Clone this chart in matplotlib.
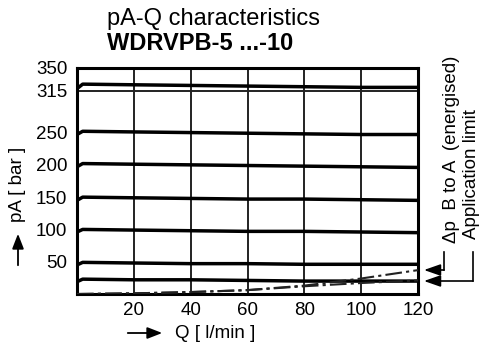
import matplotlib
matplotlib.use("Agg")
import matplotlib.pyplot as plt
from matplotlib.patches import FancyArrowPatch
from matplotlib.lines import Line2D

plt.rcParams['font.family'] = ['Liberation Sans', 'DejaVu Sans']

# Data
q_curve = [0, 2, 20, 40, 60, 80, 100, 120]
p315 = [318, 325, 324, 323, 322, 321, 320, 320]
p250 = [247, 252, 251, 250, 249, 248, 247, 247]
p200 = [197, 202, 201, 200, 199, 198, 197, 196]
p150 = [145, 150, 149, 148, 147, 147, 146, 145]
p100 = [96, 100, 99, 98, 97, 97, 96, 95]
p50 = [45, 49, 48, 47, 47, 46, 46, 46]
p20 = [19, 23, 22, 22, 21, 20, 20, 20]

q_dash = [0, 20, 40, 60, 80, 100, 120]
dp_b_to_a = [0, 1, 3, 6, 13, 24, 37]
app_limit = [0, 1, 3, 6, 12, 17, 21]

xticks = [20, 40, 60, 80, 100, 120]
yticks = [50, 100, 150, 200, 250, 315, 350]

FS = 13.5

fig = plt.figure(figsize=(4.8, 3.47), dpi=100)
ax = fig.add_axes([77/480, 1-294/347, 341/480, 226/347])
ax.set_xlim(0, 120)
ax.set_ylim(0, 350)

for x in xticks[:-1]:
    ax.axvline(x, color='#222222', lw=1.4, zorder=1)
ax.axhline(315, color='#222222', lw=1.4, zorder=1)

for p in [p315, p250, p200, p150, p100, p50, p20]:
    ax.plot(q_curve, p, color='black', lw=2.5, zorder=3, solid_capstyle='butt')

ax.plot(q_dash, dp_b_to_a, color='#222222', lw=1.5, ls=(0, (8, 2, 1.5, 2)), zorder=3)
ax.plot(q_dash, app_limit, color='#222222', lw=1.5, ls=(0, (8, 2, 1.5, 2)), zorder=3)

for s in ax.spines.values():
    s.set_linewidth(2.2)
    s.set_color('black')

ax.set_xticks(xticks)
ax.set_yticks(yticks)
ax.tick_params(length=0, labelsize=FS)
ax.tick_params(axis='y', pad=7)
ax.tick_params(axis='x', pad=6)
ax.set_xticklabels([str(v) for v in xticks])
ax.set_yticklabels([str(v) for v in yticks])

# Titles
fig.text(107/480, 1-19/347, 'pA-Q characteristics', fontsize=17, va='center', ha='left')
fig.text(107/480, 1-44/347, 'WDRVPB-5 ...-10', fontsize=17, fontweight='bold', va='center', ha='left')

# Axis labels with arrows
fig.text(175/480, 1-333/347, 'Q [ l/min ]', fontsize=FS, va='center', ha='left')
fig.patches.append(FancyArrowPatch((125/480, 1-333/347), (165/480, 1-333/347),
    transform=fig.transFigure, arrowstyle='-|>,head_length=9,head_width=3.5', color='black', lw=1.3, mutation_scale=1))
fig.text(18/480, 1-184/347, 'pA [ bar ]', fontsize=FS, va='center', ha='center', rotation=90)
fig.patches.append(FancyArrowPatch((18/480, 1-268/347), (18/480, 1-231/347),
    transform=fig.transFigure, arrowstyle='-|>,head_length=9,head_width=3.5', color='black', lw=1.3, mutation_scale=1))

# Right annotations
fig.text(451/480, 1-149/347, 'Δp  B to A  (energised)', fontsize=FS, va='center', ha='center', rotation=90)
fig.text(472/480, 1-174/347, 'Application limit', fontsize=FS, va='center', ha='center', rotation=90)

def leader(xv, ytop, yarrow):
    fig.lines.append(Line2D([xv/480, xv/480], [1-ytop/347, 1-yarrow/347],
                            transform=fig.transFigure, color='black', lw=1.2))
    fig.patches.append(FancyArrowPatch((xv/480, 1-yarrow/347), (424/480, 1-yarrow/347),
        transform=fig.transFigure, arrowstyle='-|>,head_length=10,head_width=3.5', color='black', lw=1.2,
        mutation_scale=1, shrinkA=0, shrinkB=0))

leader(444, 252, 270)
leader(473, 252, 281)

fig.savefig('out.png', dpi=100)
